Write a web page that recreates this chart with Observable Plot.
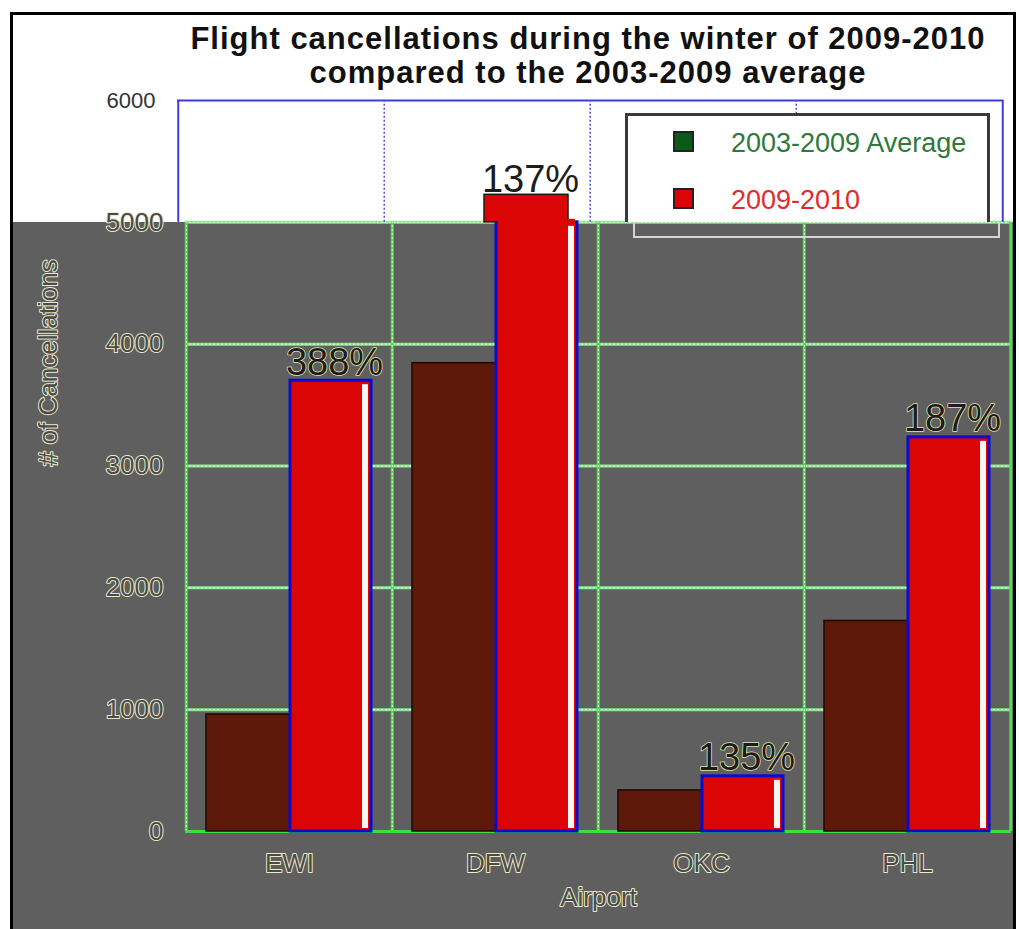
<!DOCTYPE html>
<html><head><meta charset="utf-8">
<script src="https://cdn.jsdelivr.net/npm/d3@7"></script>
<script src="https://cdn.jsdelivr.net/npm/@observablehq/plot@0.6"></script>
<style>
html,body{margin:0;padding:0;background:#fff;}
body{width:1019px;height:929px;overflow:hidden;position:relative;font-family:"Liberation Sans",Arial,sans-serif;}
#frame{position:absolute;left:10px;top:12px;width:1000px;height:940px;border:3px solid #000;border-bottom:none;z-index:6;pointer-events:none;}
#gray{position:absolute;left:13px;width:1000px;bottom:0;background:#5f5f5f;z-index:0;}
#chart{position:absolute;left:0;top:0;z-index:1;}
#title{position:absolute;left:88px;top:22px;width:1000px;text-align:center;font-weight:bold;font-size:31px;line-height:34px;letter-spacing:1px;color:#111;z-index:3;}
#legend{position:absolute;left:625px;top:113px;width:365px;height:109px;box-sizing:border-box;border:3px solid #3a3a3a;border-bottom:none;background:#fff;z-index:3;}
#legshadow{position:absolute;left:633px;top:222px;width:367px;height:16px;box-sizing:border-box;border:2px solid #d4d4d4;border-top:none;z-index:3;}
.sw{position:absolute;width:21px;height:21px;box-sizing:border-box;border:2px solid #222;z-index:4;}
.lt{position:absolute;font-size:27px;line-height:27px;white-space:nowrap;z-index:4;}
</style></head>
<body>
<div id="gray"></div>
<div id="chart"></div>
<div id="title"></div>
<div id="legend"></div>
<div id="legshadow"></div>
<div id="frame"></div>
<script>
// ---- data ----
const airports = ["EWI", "DFW", "OKC", "PHL"];
const average0309 = [960, 3844, 337, 1728];
const winter0910 = [3700, 5226, 453, 3235];
const pctLabels = ["388%", "137%", "135%", "187%"];
const yTicks = [0, 1000, 2000, 3000, 4000, 5000, 6000];
const seriesNames = ["2003-2009 Average", "2009-2010"];
const titleLines = ["Flight cancellations during the winter of 2009-2010", "compared to the 2003-2009 average"];
const yLabel = "# of Cancellations";
const xLabel = "Airport";

const rows = airports.map((a, i) => ({airport: a, avg: average0309[i], win: winter0910[i], pct: pctLabels[i]}));
const SPLIT = 5000; // boundary between the white and grey parts of the picture
const W = 1019, H = 929, ML = 185, MR = 8, MT = 100, MB = 98;
const half = (W - ML - MR) / airports.length / 2;

const font = "Liberation Sans, Arial, sans-serif";
const outline = {fill: "#4a4a4a", stroke: "#ecebc8", strokeWidth: 2, fontFamily: font};
const over = rows.filter(d => d.win > SPLIT);

const plot = Plot.plot({
  width: W, height: H,
  marginLeft: ML, marginRight: MR, marginTop: MT, marginBottom: MB,
  style: {background: "transparent", overflow: "visible"},
  x: {domain: airports, padding: 0, axis: null},
  y: {domain: [0, 6000], axis: null},
  marks: [
    // grid in the grey area
    Plot.ruleY(yTicks.filter(d => d <= SPLIT), {y: d => d, stroke: "#8fe48f", strokeWidth: 3}),
    Plot.ruleY(yTicks.filter(d => d <= SPLIT), {y: d => d, stroke: "#e4ffe0", strokeWidth: 1, strokeDasharray: "2 2"}),
    Plot.ruleX(airports, {x: d => d, y1: 0, y2: SPLIT, dx: -half, stroke: "#4ddc4d", strokeWidth: 3}),
    Plot.ruleX(airports, {x: d => d, y1: 0, y2: SPLIT, dx: -half, stroke: "#dcffd8", strokeWidth: 1, strokeDasharray: "2 2"}),
    Plot.ruleX(airports.slice(-1), {x: d => d, y1: 0, y2: SPLIT, dx: half, stroke: "#4ddc4d", strokeWidth: 3}),
    Plot.ruleY([0], {stroke: "#3fdc3f", strokeWidth: 3}),
    // blue frame in the white area
    Plot.ruleY([6000], {dx: -8, stroke: "#3c3cdc", strokeWidth: 2}),
    Plot.ruleX(airports.slice(0, 1), {x: d => d, y1: SPLIT, y2: 6000, dx: -half - 8, stroke: "#3c3cdc", strokeWidth: 2}),
    Plot.ruleX(airports.slice(1), {x: d => d, y1: SPLIT, y2: 6000, dx: -half - 8, stroke: "#5050e0", strokeWidth: 1.5, strokeDasharray: "2 2"}),
    Plot.ruleX(airports.slice(-1), {x: d => d, y1: SPLIT, y2: 6000, dx: half - 8, stroke: "#3c3cdc", strokeWidth: 2}),
    // bars
    Plot.barY(rows, {x: "airport", y: "avg", fill: "#5e190a", stroke: "#1e0800", strokeWidth: 1.5, insetLeft: 20, insetRight: 102}),
    Plot.barY(rows, {x: "airport", y1: 0, y2: d => Math.min(d.win, SPLIT), fill: "#dc0505", stroke: "#0a0ad0", strokeWidth: 3, insetLeft: 104, insetRight: 21}),
    // bar part above the split (shifted like the white area of the picture)
    Plot.barY(over, {x: "airport", y1: SPLIT, y2: "win", dx: -12, fill: "#dc0505", stroke: "#1a1a1a", strokeWidth: 1.5, insetLeft: 104, insetRight: 18}),
    // hide the top edge of the clipped bar
    Plot.barY(over, {x: "airport", y1: SPLIT - 300, y2: SPLIT, fill: "#dc0505", insetLeft: 106, insetRight: 23, insetTop: -3}),
    Plot.barY(rows, {x: "airport", y1: 0, y2: d => Math.min(d.win, SPLIT), fill: "#f8f8f0", insetLeft: 176, insetRight: 24, insetTop: 4, insetBottom: 3}),
    // percentage labels
    Plot.text(rows.filter(d => d.win <= SPLIT), {x: "airport", y: "win", text: "pct", dx: 45, dy: -6, lineAnchor: "bottom", fontSize: 38, fill: "#1c1c1c", stroke: "#e6e6a8", strokeWidth: 1.5, fontFamily: font}),
    Plot.text(over, {x: "airport", y: "win", text: "pct", dx: 35, dy: -3, lineAnchor: "bottom", fontSize: 38, fill: "#1c1c1c", fontFamily: font}),
    // y tick labels
    Plot.text(yTicks.filter(d => d > SPLIT), {y: d => d, text: d => String(d), frameAnchor: "left", textAnchor: "end", dx: -30, fontSize: 22, fill: "#333", fontFamily: font}),
    Plot.text(yTicks.filter(d => d <= SPLIT), {y: d => d, text: d => String(d), frameAnchor: "left", textAnchor: "end", dx: -22, fontSize: 26, ...outline}),
    // axis titles and x tick labels
    Plot.text([yLabel], {frameAnchor: "left", y: 3000, text: d => d, rotate: -90, dx: -137, fontSize: 26, ...outline}),
    Plot.text(airports, {x: d => d, text: d => d, frameAnchor: "bottom", dy: 40, fontSize: 26, ...outline}),
    Plot.text([xLabel], {frameAnchor: "bottom", text: d => d, dy: 74, fontSize: 26, ...outline})
  ]
});
document.getElementById("chart").appendChild(plot);

// grey region starts at the 5000 line
const ySplit = plot.scale("y").apply(SPLIT);
document.getElementById("gray").style.top = ySplit + "px";

// title
document.getElementById("title").innerHTML = titleLines.map(t => `<div>${t}</div>`).join("");

// legend
const legColors = [{sw: "#0b5a18", tx: "#2d7a3a"}, {sw: "#dc0505", tx: "#e02c2c"}];
seriesNames.forEach((name, i) => {
  const top = 131 + i * 57;
  const sw = document.createElement("div");
  sw.className = "sw"; sw.style.left = "673px"; sw.style.top = top + "px"; sw.style.background = legColors[i].sw;
  document.body.appendChild(sw);
  const tx = document.createElement("div");
  tx.className = "lt"; tx.style.left = "731px"; tx.style.top = (top - 1) + "px"; tx.style.color = legColors[i].tx;
  tx.textContent = name;
  document.body.appendChild(tx);
});
</script>
</body></html>
